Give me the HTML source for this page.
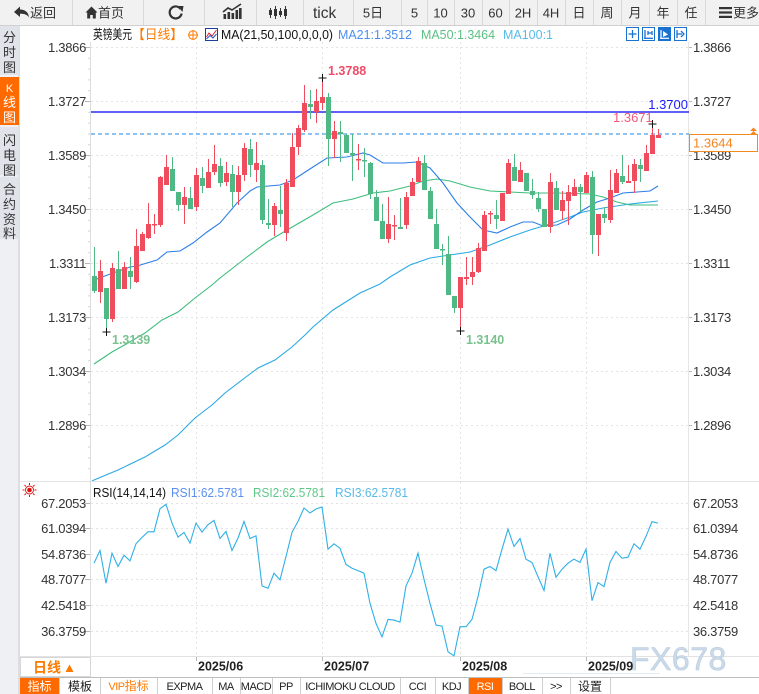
<!DOCTYPE html>
<html><head><meta charset="utf-8"><style>
html,body{margin:0;padding:0;background:#fff;}
svg{display:block;}
text{font-family:"Liberation Sans","Noto Sans CJK SC","WenQuanYi Zen Hei",sans-serif;}
.mono{font-family:"Liberation Mono","Noto Sans CJK SC",monospace;}
</style></head><body>
<svg width="759" height="694" viewBox="0 0 759 694" xmlns="http://www.w3.org/2000/svg">
<!-- toolbar -->
<rect x="0" y="0" width="759" height="25" fill="#f1f1f1"/>
<line x1="0" y1="25.5" x2="759" y2="25.5" stroke="#d0d0d0"/>
<g stroke="#d9d9d9">
<line x1="72.5" y1="0" x2="72.5" y2="25"/><line x1="143.5" y1="0" x2="143.5" y2="25"/><line x1="204.5" y1="0" x2="204.5" y2="25"/><line x1="256.5" y1="0" x2="256.5" y2="25"/><line x1="303.5" y1="0" x2="303.5" y2="25"/><line x1="353.5" y1="0" x2="353.5" y2="25"/><line x1="401.5" y1="0" x2="401.5" y2="25"/><line x1="427.5" y1="0" x2="427.5" y2="25"/><line x1="454.5" y1="0" x2="454.5" y2="25"/><line x1="482.5" y1="0" x2="482.5" y2="25"/><line x1="509.5" y1="0" x2="509.5" y2="25"/><line x1="537.5" y1="0" x2="537.5" y2="25"/><line x1="565.5" y1="0" x2="565.5" y2="25"/><line x1="593.5" y1="0" x2="593.5" y2="25"/><line x1="621.5" y1="0" x2="621.5" y2="25"/><line x1="649.5" y1="0" x2="649.5" y2="25"/><line x1="677.5" y1="0" x2="677.5" y2="25"/><line x1="705.5" y1="0" x2="705.5" y2="25"/>
</g>
<path d="M14 12 L20 6.5 V9.5 C25 9.5 28.5 12 29 17.5 C27 14.5 24.5 13.8 20 13.8 V17 Z" fill="#333"/>
<path d="M85.5 12.5 L91.5 6.5 L97.5 12.5 H95.8 V18.5 H92.8 V15 H90.2 V18.5 H87.2 V12.5 Z" fill="#333"/>
<path d="M180.6 9 A6 6 0 1 0 181.6 13.5" stroke="#333" stroke-width="2.2" fill="none"/>
<path d="M177.5 6 L183.5 6 L182.5 12 Z" fill="#333"/>
<g fill="#333"><rect x="223.5" y="14" width="2.6" height="5"/><rect x="227.5" y="12" width="2.6" height="7"/><rect x="231.5" y="13" width="2.6" height="6"/><rect x="235.5" y="10" width="2.6" height="9"/><rect x="239" y="8" width="2.6" height="11"/></g>
<polyline points="223,12 228,8 232,10 241,4" stroke="#333" stroke-width="1.6" fill="none"/>
<g stroke="#333" stroke-width="1"><line x1="270.5" y1="8" x2="270.5" y2="18"/><line x1="275.5" y1="6" x2="275.5" y2="19"/><line x1="280.5" y1="8" x2="280.5" y2="17"/><line x1="285.5" y1="6" x2="285.5" y2="19"/></g>
<g fill="#333"><rect x="269" y="10" width="3" height="5"/><rect x="274" y="9" width="3" height="7"/><rect x="279" y="11" width="3" height="4"/><rect x="284" y="9" width="3" height="7"/></g>
<g font-size="13" fill="#333">
<text x="30" y="17.5">返回</text>
<text x="98" y="17.5">首页</text>
<text x="313" y="18" font-size="15.5">tick</text>
<text x="373" y="17.5" text-anchor="middle">5日</text>
<text x="414.5" y="17.5" text-anchor="middle">5</text>
<text x="440.5" y="17.5" text-anchor="middle">10</text>
<text x="468" y="17.5" text-anchor="middle">30</text>
<text x="495.5" y="17.5" text-anchor="middle">60</text>
<text x="523" y="17.5" text-anchor="middle">2H</text>
<text x="551" y="17.5" text-anchor="middle">4H</text>
<text x="579" y="17.5" text-anchor="middle">日</text>
<text x="607" y="17.5" text-anchor="middle">周</text>
<text x="635" y="17.5" text-anchor="middle">月</text>
<text x="663" y="17.5" text-anchor="middle">年</text>
<text x="691" y="17.5" text-anchor="middle">任</text>
<text x="733" y="17.5">更多</text>
</g>
<g fill="#333"><rect x="719" y="7" width="13" height="2.2"/><rect x="719" y="11.4" width="13" height="2.2"/><rect x="719" y="15.8" width="13" height="2.2"/></g>

<!-- left sidebar -->
<rect x="0" y="26" width="20" height="668" fill="#eef0f4"/>
<line x1="19" y1="26" x2="19" y2="694" stroke="#c9cdd5"/>
<rect x="0" y="26" width="19" height="49" fill="#e0e3ea"/>
<rect x="0" y="77" width="19" height="48" fill="#ff6a00"/>
<rect x="0" y="127" width="19" height="48" fill="#e0e3ea"/>
<rect x="0" y="177" width="19" height="62" fill="#e0e3ea"/>
<g font-size="13" fill="#333" text-anchor="middle">
<text x="9.5" y="42">分</text><text x="9.5" y="57">时</text><text x="9.5" y="72">图</text>
<text x="9.5" y="92" fill="#fff" font-size="11">K</text><text x="9.5" y="107" fill="#fff">线</text><text x="9.5" y="122" fill="#fff">图</text>
<text x="9.5" y="145">闪</text><text x="9.5" y="160">电</text><text x="9.5" y="175">图</text>
<text x="9.5" y="194">合</text><text x="9.5" y="209">约</text><text x="9.5" y="224">资</text><text x="9.5" y="238">料</text>
</g>

<!-- chart area white -->
<rect x="20" y="26" width="739" height="651" fill="#fff"/>

<!-- grids -->
<g stroke="#e4e4e4" stroke-dasharray="2,3">
<line x1="91" y1="47.5" x2="688" y2="47.5"/><line x1="91" y1="101.5" x2="688" y2="101.5"/><line x1="91" y1="155.5" x2="688" y2="155.5"/><line x1="91" y1="209.5" x2="688" y2="209.5"/><line x1="91" y1="263.5" x2="688" y2="263.5"/><line x1="91" y1="317.5" x2="688" y2="317.5"/><line x1="91" y1="371.5" x2="688" y2="371.5"/><line x1="91" y1="425.5" x2="688" y2="425.5"/>
<line x1="91" y1="503.5" x2="688" y2="503.5"/><line x1="91" y1="528.5" x2="688" y2="528.5"/><line x1="91" y1="554.5" x2="688" y2="554.5"/><line x1="91" y1="579.5" x2="688" y2="579.5"/><line x1="91" y1="605.5" x2="688" y2="605.5"/><line x1="91" y1="631.5" x2="688" y2="631.5"/>
<line x1="196.5" y1="42" x2="196.5" y2="657"/><line x1="322.5" y1="42" x2="322.5" y2="657"/><line x1="460.5" y1="42" x2="460.5" y2="657"/><line x1="586.5" y1="42" x2="586.5" y2="657"/>
</g>
<!-- axis lines -->
<line x1="90.5" y1="42" x2="90.5" y2="677" stroke="#dcdcdc"/>
<line x1="688.5" y1="42" x2="688.5" y2="657" stroke="#e6e6e6"/>
<line x1="20" y1="481.5" x2="759" y2="481.5" stroke="#e2e2e2"/>
<line x1="20" y1="656.5" x2="759" y2="656.5" stroke="#e2e2e2"/>
<g stroke="#b8b8b8">
<line x1="85" y1="47.5" x2="90" y2="47.5"/><line x1="85" y1="101.5" x2="90" y2="101.5"/><line x1="85" y1="155.5" x2="90" y2="155.5"/><line x1="85" y1="209.5" x2="90" y2="209.5"/><line x1="85" y1="263.5" x2="90" y2="263.5"/><line x1="85" y1="317.5" x2="90" y2="317.5"/><line x1="85" y1="371.5" x2="90" y2="371.5"/><line x1="85" y1="425.5" x2="90" y2="425.5"/>
<line x1="85" y1="503.5" x2="90" y2="503.5"/><line x1="85" y1="528.5" x2="90" y2="528.5"/><line x1="85" y1="554.5" x2="90" y2="554.5"/><line x1="85" y1="579.5" x2="90" y2="579.5"/><line x1="85" y1="605.5" x2="90" y2="605.5"/><line x1="85" y1="631.5" x2="90" y2="631.5"/>
<line x1="689" y1="47.5" x2="692" y2="47.5"/><line x1="689" y1="101.5" x2="692" y2="101.5"/><line x1="689" y1="155.5" x2="692" y2="155.5"/><line x1="689" y1="209.5" x2="692" y2="209.5"/><line x1="689" y1="263.5" x2="692" y2="263.5"/><line x1="689" y1="317.5" x2="692" y2="317.5"/><line x1="689" y1="371.5" x2="692" y2="371.5"/><line x1="689" y1="425.5" x2="692" y2="425.5"/>
<line x1="196.5" y1="657" x2="196.5" y2="661"/><line x1="322.5" y1="657" x2="322.5" y2="661"/><line x1="460.5" y1="657" x2="460.5" y2="661"/><line x1="586.5" y1="657" x2="586.5" y2="661"/>
</g>
<g stroke="#d6d6d6">
<line x1="88" y1="58.3" x2="90" y2="58.3"/><line x1="88" y1="69.1" x2="90" y2="69.1"/><line x1="88" y1="79.9" x2="90" y2="79.9"/><line x1="88" y1="90.7" x2="90" y2="90.7"/>
<line x1="88" y1="112.3" x2="90" y2="112.3"/><line x1="88" y1="123.1" x2="90" y2="123.1"/><line x1="88" y1="133.9" x2="90" y2="133.9"/><line x1="88" y1="144.7" x2="90" y2="144.7"/>
<line x1="88" y1="166.3" x2="90" y2="166.3"/><line x1="88" y1="177.1" x2="90" y2="177.1"/><line x1="88" y1="187.9" x2="90" y2="187.9"/><line x1="88" y1="198.7" x2="90" y2="198.7"/>
<line x1="88" y1="220.3" x2="90" y2="220.3"/><line x1="88" y1="231.1" x2="90" y2="231.1"/><line x1="88" y1="241.9" x2="90" y2="241.9"/><line x1="88" y1="252.7" x2="90" y2="252.7"/>
<line x1="88" y1="274.3" x2="90" y2="274.3"/><line x1="88" y1="285.1" x2="90" y2="285.1"/><line x1="88" y1="295.9" x2="90" y2="295.9"/><line x1="88" y1="306.7" x2="90" y2="306.7"/>
<line x1="88" y1="328.3" x2="90" y2="328.3"/><line x1="88" y1="339.1" x2="90" y2="339.1"/><line x1="88" y1="349.9" x2="90" y2="349.9"/><line x1="88" y1="360.7" x2="90" y2="360.7"/>
<line x1="88" y1="382.3" x2="90" y2="382.3"/><line x1="88" y1="393.1" x2="90" y2="393.1"/><line x1="88" y1="403.9" x2="90" y2="403.9"/><line x1="88" y1="414.7" x2="90" y2="414.7"/>
<line x1="88" y1="436.3" x2="90" y2="436.3"/><line x1="88" y1="447.1" x2="90" y2="447.1"/><line x1="88" y1="457.9" x2="90" y2="457.9"/><line x1="88" y1="468.7" x2="90" y2="468.7"/>
</g>

<!-- axis labels -->
<g font-size="13" fill="#333" letter-spacing="-0.3">
<g text-anchor="end">
<text x="86" y="52">1.3866</text><text x="86" y="106">1.3727</text><text x="86" y="160">1.3589</text><text x="86" y="214">1.3450</text><text x="86" y="268">1.3311</text><text x="86" y="322">1.3173</text><text x="86" y="376">1.3034</text><text x="86" y="430">1.2896</text>
<text x="86" y="508">67.2053</text><text x="86" y="533">61.0394</text><text x="86" y="559">54.8736</text><text x="86" y="584">48.7077</text><text x="86" y="610">42.5418</text><text x="86" y="636">36.3759</text>
</g>
<text x="693" y="52">1.3866</text><text x="693" y="106">1.3727</text><text x="693" y="160">1.3589</text><text x="693" y="214">1.3450</text><text x="693" y="268">1.3311</text><text x="693" y="322">1.3173</text><text x="693" y="376">1.3034</text><text x="693" y="430">1.2896</text>
<text x="693" y="508">67.2053</text><text x="693" y="533">61.0394</text><text x="693" y="559">54.8736</text><text x="693" y="584">48.7077</text><text x="693" y="610">42.5418</text><text x="693" y="636">36.3759</text>
</g>

<!-- legend -->
<g font-size="13">
<text x="93" y="39" fill="#111" textLength="39" lengthAdjust="spacingAndGlyphs">英镑美元</text>
<text x="132" y="39" fill="#ff7a00" textLength="51" lengthAdjust="spacingAndGlyphs">【日线】</text>
<text x="221" y="39" fill="#111" textLength="112" lengthAdjust="spacingAndGlyphs">MA(21,50,100,0,0,0)</text>
<text x="338" y="39" fill="#4d8ef0" textLength="74" lengthAdjust="spacingAndGlyphs">MA21:1.3512</text>
<text x="421" y="39" fill="#5cc083" textLength="74" lengthAdjust="spacingAndGlyphs">MA50:1.3464</text>
<text x="503" y="39" fill="#58bbe8" textLength="50" lengthAdjust="spacingAndGlyphs">MA100:1</text>
</g>
<circle cx="193" cy="35" r="4.3" fill="none" stroke="#ff7a00"/>
<line x1="188" y1="35" x2="198" y2="35" stroke="#ff7a00"/><line x1="193" y1="30" x2="193" y2="40" stroke="#ff7a00"/>
<rect x="205.5" y="28.5" width="12" height="12" fill="#fff" stroke="#1b3f9a"/>
<polyline points="206.5,37 209,33 212,36 216.5,30" stroke="#d23" fill="none"/>
<polyline points="206.5,39 210,35.5 213,38 216.5,34" stroke="#2255cc" fill="none"/>
<!-- right icons -->
<g stroke="#1a72d0" fill="#fff">
<rect x="626.5" y="27.5" width="12" height="13"/><rect x="642.5" y="27.5" width="12" height="13"/><rect x="658.5" y="27.5" width="12" height="13" fill="#1a72d0"/><rect x="674.5" y="27.5" width="12" height="13"/>
</g>
<g stroke="#1a72d0" stroke-width="1.3" fill="none">
<line x1="628.5" y1="34" x2="636.5" y2="34"/><line x1="632.5" y1="30" x2="632.5" y2="38"/>
<line x1="645" y1="30" x2="645" y2="38.5"/><line x1="644" y1="38.3" x2="653" y2="38.3"/><line x1="648" y1="33" x2="652" y2="33"/><line x1="648" y1="31" x2="648" y2="35"/><line x1="652" y1="31" x2="652" y2="35"/>
<line x1="677" y1="34" x2="682" y2="34"/><path d="M681 31 L684 34 L681 37"/><line x1="677" y1="30" x2="677" y2="38"/>
</g>
<g stroke="#fff" stroke-width="1.2" fill="none"><line x1="661" y1="30" x2="661" y2="38.5"/><line x1="660" y1="38.3" x2="669" y2="38.3"/></g>
<path d="M663 31 L668 34.5 L663 37 Z" fill="#fff"/>

<!-- MA lines -->
<defs><clipPath id="cp"><rect x="91" y="42" width="597" height="439"/></clipPath></defs>
<g clip-path="url(#cp)" fill="none" stroke-width="1.1">
<polyline stroke="#2aa9e2" points="92,481 94,480 118,470 145,457 165,445 178,435 195,418 212,405 225,393 242,380 258,368 275,360 292,347 305,335 313,327 333,310 360,293 380,284 390,277 410,265 430,258 450,255 470,252 490,245 510,237 530,230 550,224 570,217 583,212 603,208 630,204 658,201"/>
<polyline stroke="#3dbd7d" points="94,364 112,352 128,343 145,333 162,320 178,312 195,298 212,285 220,278 247,257 267,242 287,230 313,215 333,203 353,199 373,193 390,191 410,186 423,181 437,179 450,181 470,187 490,191 510,192 530,193 557,193 590,194 603,197 617,202 630,205 658,205"/>
<polyline stroke="#2b7fe6" points="94,280 113,273 130,267 137,266 157,260 167,252 180,251 193,243 207,232 220,223 237,203 250,191 257,187 280,185 293,180 313,167 327,158 347,157 363,153 370,155 383,163 403,163 417,162 430,168 443,183 457,203 470,217 483,230 497,233 510,227 523,222 533,222 543,226 557,225 570,219 583,210 597,202 610,198 623,193 637,192 650,191 658,186"/>
</g>

<!-- level lines -->
<line x1="91" y1="112" x2="689" y2="112" stroke="#0000f0" stroke-width="1.2"/>
<line x1="91" y1="134" x2="689" y2="134" stroke="#1e88e5" stroke-width="1" stroke-dasharray="4,3"/>

<!-- candles -->
<path fill="#ef4d5e" d="M98 271h5v21h-5zM110 268h5v51h-5zM122 267h5v22h-5zM134 246h5v36h-5zM140 234h5v17h-5zM146 224h5v14h-5zM152 224h5v1.5h-5zM158 177h5v48h-5zM164 167h5v18h-5zM182 197h5v8h-5zM194 175h5v32h-5zM206 172h5v16h-5zM212 164h5v8h-5zM224 173h5v9h-5zM236 175h5v17h-5zM242 148h5v27h-5zM254 163h5v7h-5zM272 206h5v19h-5zM284 183h5v50h-5zM290 147h5v40h-5zM296 128h5v19h-5zM302 103h5v27h-5zM314 101h5v11h-5zM320 97h5v6h-5zM332 131h5v8h-5zM356 159h5v1.5h-5zM386 224h5v15h-5zM392 225h5v1.5h-5zM404 197h5v28h-5zM410 182h5v14h-5zM416 161h5v21h-5zM458 277h5v31h-5zM464 277h5v2h-5zM470 272h5v5h-5zM476 248h5v24h-5zM482 215h5v36h-5zM488 213h5v1.5h-5zM500 193h5v28h-5zM506 163h5v31h-5zM518 170h5v12h-5zM548 182h5v45h-5zM560 200h5v11h-5zM566 192h5v9h-5zM572 187h5v9h-5zM584 175h5v18h-5zM596 214h5v21h-5zM608 190h5v30h-5zM614 173h5v20h-5zM626 181h5v2h-5zM632 164h5v17h-5zM644 153h5v18h-5zM650 135h5v19h-5zM656 135h5v3h-5z"/>
<path stroke="#ef4d5e" stroke-width="1" fill="none" d="M100.5 260V303M112.5 263V322M124.5 262V289M136.5 229V283M142.5 232V251M148.5 203V239M154.5 214V234M160.5 176V227M166.5 155V185M184.5 187V224M196.5 168V211M208.5 159V188M214.5 145V175M226.5 162V186M238.5 166V205M244.5 143V181M256.5 142V182M274.5 203V236M286.5 179V241M292.5 133V187M298.5 125V155M304.5 85V132M316.5 89V123M322.5 78V110M334.5 121V158M358.5 144V170M388.5 197V243M394.5 215V240M406.5 192V229M412.5 178V196M418.5 157V182M460.5 277V331M466.5 257V285M472.5 257V285M478.5 243V273M484.5 211V251M490.5 211V224M502.5 193V221M508.5 159V194M520.5 162V182M550.5 173V233M562.5 191V220M568.5 185V225M574.5 179V196M586.5 172V193M598.5 214V256M610.5 170V223M616.5 169V193M628.5 165V183M634.5 159V193M646.5 145V171M652.5 124V154M658.5 129V138"/>
<path fill="#4fb985" d="M92 276h5v15h-5zM104 288h5v31h-5zM116 269h5v20h-5zM128 271h5v6h-5zM170 169h5v22h-5zM176 192h5v13h-5zM188 198h5v11h-5zM200 178h5v8h-5zM218 166h5v17h-5zM230 174h5v18h-5zM248 149h5v16h-5zM260 165h5v55h-5zM266 223h5v2h-5zM278 210h5v4h-5zM308 104h5v3h-5zM326 97h5v42h-5zM338 132h5v2h-5zM344 135h5v18h-5zM350 153h5v2h-5zM362 160h5v1.5h-5zM368 163h5v31h-5zM374 197h5v24h-5zM380 221h5v18h-5zM398 227h5v2h-5zM422 163h5v27h-5zM428 191h5v28h-5zM434 224h5v25h-5zM440 249h5v1.5h-5zM446 254h5v41h-5zM452 296h5v12h-5zM494 215h5v4h-5zM512 167h5v14h-5zM524 173h5v18h-5zM530 191h5v4h-5zM536 198h5v11h-5zM542 209h5v18h-5zM554 188h5v22h-5zM578 187h5v5h-5zM590 177h5v58h-5zM602 214h5v4h-5zM620 176h5v6h-5zM638 165h5v4h-5z"/>
<path stroke="#4fb985" stroke-width="1" fill="none" d="M94.5 247V293M106.5 288V332M118.5 251V289M130.5 257V289M172.5 157V191M178.5 192V211M190.5 187V209M202.5 167V193M220.5 158V187M232.5 165V207M250.5 139V177M262.5 160V224M268.5 199V229M280.5 186V227M310.5 90V119M328.5 93V166M340.5 121V162M346.5 134V153M352.5 134V181M364.5 148V177M370.5 162V199M376.5 190V221M382.5 204V239M400.5 198V229M424.5 155V190M430.5 187V219M436.5 209V249M442.5 244V265M448.5 236V295M454.5 296V313M496.5 200V229M514.5 154V181M526.5 173V191M532.5 179V199M538.5 192V212M544.5 209V227M556.5 181V210M580.5 184V212M592.5 171V254M604.5 207V223M622.5 155V184M640.5 159V182"/>

<!-- high/low markers -->
<g stroke="#111" stroke-width="1">
<line x1="318.5" y1="78" x2="326.5" y2="78"/><line x1="322.5" y1="74" x2="322.5" y2="82"/>
<line x1="102.5" y1="332" x2="110.5" y2="332"/><line x1="106.5" y1="328" x2="106.5" y2="336"/>
<line x1="456.5" y1="331" x2="464.5" y2="331"/><line x1="460.5" y1="327" x2="460.5" y2="335"/>
<line x1="648.5" y1="124" x2="656.5" y2="124"/><line x1="652.5" y1="120" x2="652.5" y2="128"/>
</g>
<g font-size="12.5" font-weight="bold">
<text x="328" y="75" fill="#f04c68">1.3788</text>
<text x="112" y="344" fill="#78c28e">1.3139</text>
<text x="466" y="344" fill="#78c28e">1.3140</text>
<text x="613" y="122" fill="#f25a78" font-weight="normal" font-size="13">1.3671</text>
</g>
<text x="688" y="109" fill="#1a1aff" font-size="13" text-anchor="end">1.3700</text>
<rect x="689.5" y="134.5" width="68" height="17" fill="#fff" stroke="#f28a1e"/>
<text x="693" y="147.5" fill="#f5861f" font-size="13">1.3644</text>
<path d="M750 131 L753.5 127.5 L757 131 Z M750 134.5 L753.5 131 L757 134.5 Z" fill="#f5861f"/>

<!-- RSI -->
<circle cx="29.5" cy="490" r="2.3" fill="#e01010"/>
<circle cx="29.5" cy="490" r="4" fill="none" stroke="#e01010" stroke-width="0.9"/>
<g stroke="#e01010" stroke-width="1">
<line x1="29.5" y1="483" x2="29.5" y2="485"/><line x1="29.5" y1="495" x2="29.5" y2="497"/><line x1="22.5" y1="490" x2="24.5" y2="490"/><line x1="34.5" y1="490" x2="36.5" y2="490"/>
<line x1="24.5" y1="485" x2="26" y2="486.5"/><line x1="33" y1="493.5" x2="34.5" y2="495"/><line x1="34.5" y1="485" x2="33" y2="486.5"/><line x1="26" y1="493.5" x2="24.5" y2="495"/>
</g>
<g font-size="13">
<text x="93" y="497" fill="#111" textLength="73" lengthAdjust="spacingAndGlyphs">RSI(14,14,14)</text>
<text x="171" y="497" fill="#5b8ff0" textLength="73" lengthAdjust="spacingAndGlyphs">RSI1:62.5781</text>
<text x="253" y="497" fill="#5fc888" textLength="72" lengthAdjust="spacingAndGlyphs">RSI2:62.5781</text>
<text x="335" y="497" fill="#5ab9e6" textLength="73" lengthAdjust="spacingAndGlyphs">RSI3:62.5781</text>
</g>
<polyline fill="none" stroke="#2fb0e6" stroke-width="1.1" points="94,563.2 100,550.5 106,583.3 112,553.2 118,566.5 124,555.2 130,560.9 136,543.8 142,537.4 148,531.8 154,531.8 160,508.7 166,504.3 172,523.1 178,537.1 184,532.4 190,543.1 196,523.1 202,532.1 208,524.7 214,520.4 220,538.5 226,531.4 232,550.5 238,538.1 244,521.4 250,538.5 256,535.8 262,585.9 268,588.3 274,573.2 280,579.9 286,556.5 292,532.4 298,521.4 304,508 310,513 316,509 322,507 328,549.2 334,543.8 340,548.2 346,564.5 352,568.2 358,570.6 364,573.2 370,603.3 376,623.4 382,636.8 388,619.4 394,620.1 400,622.1 406,585.9 412,573.2 418,553.2 424,579.3 430,603.3 436,625.1 442,626.1 448,651.8 454,655.8 460,626.7 466,626.7 472,619.4 478,596.6 484,569.2 490,566.5 496,570.6 502,549.2 508,529.1 514,546.5 520,538.5 526,559.2 532,562.5 538,576.6 544,590.6 550,553.2 556,577.2 562,569.2 568,563.2 574,559.2 580,562.5 586,549.2 592,600.7 598,582.6 604,586.6 610,562.5 616,551.5 622,558.2 628,557.2 634,543.8 640,549.2 646,536.4 652,521.7 658,523.1"/>

<!-- watermark -->
<text x="630" y="670" font-size="32" fill="#cadaea" stroke="#b9cbdd" stroke-width="0.6" letter-spacing="0.5">FX678</text>
<line x1="523" y1="673.5" x2="660" y2="673.5" stroke="#e3eaf1"/>

<!-- x axis -->
<g font-size="12.5" font-weight="bold" fill="#222">
<text x="198" y="670.5">2025/06</text>
<text x="324" y="670.5">2025/07</text>
<text x="462" y="670.5">2025/08</text>
<text x="588" y="670.5">2025/09</text>
</g>
<rect x="20.5" y="657.5" width="70" height="19" fill="#fff" stroke="#d6d6d6"/>
<text x="33" y="672.5" font-size="14" font-weight="bold" fill="#ff7a00">日线</text>
<path d="M65.5 672 L69.5 664.5 L73.5 672 Z" fill="#ff7a00"/>

<!-- bottom tabs -->
<rect x="20" y="677" width="739" height="17" fill="#fff"/>
<line x1="20" y1="677.5" x2="759" y2="677.5" stroke="#bdbdbd"/>
<rect x="20" y="678" width="39" height="16" fill="#ff6a00"/>
<rect x="468" y="678" width="34" height="16" fill="#ff6a00"/>
<g stroke="#cfcfcf">
<line x1="59.5" y1="678" x2="59.5" y2="694"/><line x1="100.5" y1="678" x2="100.5" y2="694"/><line x1="157.5" y1="678" x2="157.5" y2="694"/><line x1="212.5" y1="678" x2="212.5" y2="694"/><line x1="240.5" y1="678" x2="240.5" y2="694"/><line x1="272.5" y1="678" x2="272.5" y2="694"/><line x1="300.5" y1="678" x2="300.5" y2="694"/><line x1="400.5" y1="678" x2="400.5" y2="694"/><line x1="435.5" y1="678" x2="435.5" y2="694"/><line x1="468.5" y1="678" x2="468.5" y2="694"/><line x1="502.5" y1="678" x2="502.5" y2="694"/><line x1="542.5" y1="678" x2="542.5" y2="694"/><line x1="570.5" y1="678" x2="570.5" y2="694"/><line x1="610.5" y1="678" x2="610.5" y2="694"/>
</g>
<g font-size="12" text-anchor="middle" fill="#222">
<text x="39.5" y="690.5" fill="#fff">指标</text>
<text x="80" y="690.5">模板</text>
<text x="590" y="690.5">设置</text>
</g>
<g class="mono" font-size="11" text-anchor="middle" fill="#222" letter-spacing="-0.5">
<text x="128.5" y="690" fill="#ff7a00">VIP<tspan font-family="Noto Sans CJK SC, sans-serif" font-size="12" letter-spacing="0">指标</tspan></text>
<text x="184.5" y="690">EXPMA</text>
<text x="226" y="690">MA</text>
<text x="256" y="690">MACD</text>
<text x="286" y="690">PP</text>
<text x="350" y="690">ICHIMOKU CLOUD</text>
<text x="417.5" y="690">CCI</text>
<text x="451.5" y="690">KDJ</text>
<text x="485" y="690" fill="#fff">RSI</text>
<text x="522" y="690">BOLL</text>
<text x="556" y="690">&gt;&gt;</text>
</g>
</svg>
</body></html>
